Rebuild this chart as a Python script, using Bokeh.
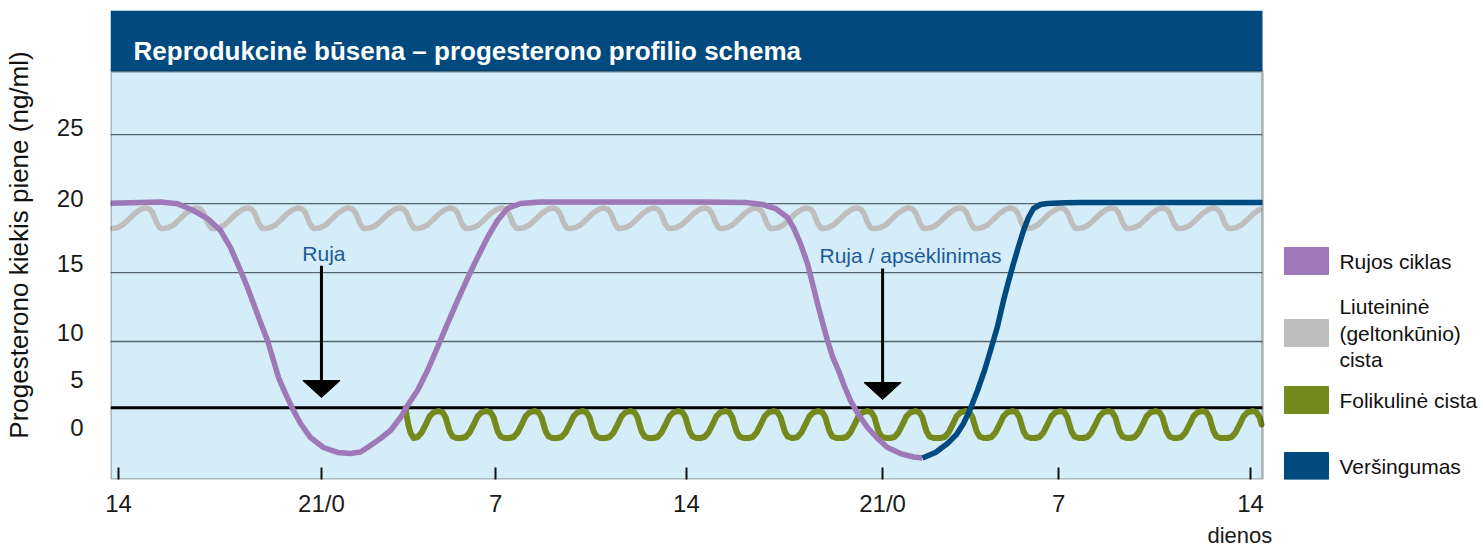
from bokeh.plotting import figure
from bokeh.models import Range1d, FixedTicker, Label, BoxAnnotation, Title
from bokeh.core.properties import value
from bokeh.embed import file_html
from bokeh.resources import INLINE

FONT = "Liberation Sans"

# ---------------- data (schematic) ----------------
# x axis: day positions on a continuous scale and their labels
x_tick_pos = [0.0, 7.53, 13.99, 21.07, 28.35, 34.88, 42.0]
x_tick_labels = ["14", "21/0", "7", "14", "21/0", "7", "14"]

# y axis labels (ng/ml) and their positions
y_tick_pos = [3.77, 7.25, 10.65, 15.65, 20.4, 25.5]
y_tick_labels = ["0", "5", "10", "15", "20", "25"]
grid_levels = [10, 15, 20, 25]
threshold_level = 5.2

# Rujos ciklas (oestrous cycle)
cycle_x = [-0.297, 1.558, 2.189, 2.783, 3.302, 3.785, 4.156, 4.527, 4.786,
           5.009, 5.269, 5.528, 5.751, 5.937, 6.196, 6.456, 6.753, 7.124,
           7.606, 8.126, 8.608, 8.979, 9.239, 9.721, 10.092, 10.463, 10.723,
           11.094, 11.465, 11.836, 12.207, 12.578, 12.949, 13.320, 13.691,
           14.062, 14.433, 14.915, 15.657, 18.626, 21.594, 23.264, 23.895,
           24.377, 24.822, 25.044, 25.304, 25.564, 25.750, 25.935, 26.121,
           26.306, 26.492, 26.714, 26.937, 27.160, 27.457, 27.790, 28.161,
           28.532, 29.015, 29.497, 29.831]
cycle_y = [20.02, 20.11, 19.98, 19.49, 18.91, 18.04, 16.81, 15.14, 13.91,
           12.75, 11.38, 10.07, 8.62, 7.39, 6.23, 5.14, 4.06, 3.04,
           2.32, 1.96, 1.88, 1.99, 2.32, 2.97, 3.55, 4.49, 5.36,
           6.45, 7.90, 9.57, 11.30, 12.97, 14.57, 16.09, 17.54,
           18.77, 19.64, 20.00, 20.11, 20.11, 20.11, 20.07, 19.93,
           19.64, 18.99, 18.26, 17.10, 15.65, 14.20, 12.75, 11.38,
           10.07, 8.91, 7.90, 6.74, 5.72, 4.71, 3.77, 2.97,
           2.32, 1.88, 1.63, 1.56]

# Veršingumas (pregnancy)
preg_x = [29.831, 30.313, 30.758, 31.092, 31.352, 31.612, 31.871, 32.131,
          32.354, 32.613, 32.836, 33.021, 33.207, 33.392, 33.578, 33.763,
          33.949, 34.208, 34.469, 35.137, 35.693, 42.445]
preg_y = [1.56, 1.96, 2.61, 3.26, 4.06, 5.14, 6.45, 7.90,
          9.35, 11.09, 12.97, 14.35, 15.65, 16.88, 18.04, 18.99,
          19.64, 19.93, 20.00, 20.05, 20.07, 20.07]

# Liuteininė (geltonkūnio) cista: trough positions and one wave cycle
luteal_troughs = [-0.22, 1.67, 3.56, 5.45, 7.31, 9.20, 11.09, 12.99, 14.88,
                  16.77, 18.63, 20.52, 22.41, 24.30, 26.16, 28.09, 29.98,
                  31.87, 33.73, 35.62, 37.51, 39.40, 41.30]
luteal_cycle_dx = [0.0, 0.19, 0.37, 0.59, 0.82, 1.04, 1.22, 1.37, 1.48,
                   1.56, 1.63, 1.73, 1.80]
luteal_cycle_y = [18.19, 18.26, 18.44, 18.84, 19.28, 19.57, 19.68, 19.60,
                  19.35, 18.99, 18.62, 18.30, 18.19]

# Folikulinė cista: start, trough positions and one wave cycle
foll_start_x = [10.65, 10.69, 10.76, 10.83]
foll_start_y = [5.18, 4.64, 3.91, 3.41]
foll_troughs = [10.95, 12.73, 14.51, 16.29, 18.07, 19.85, 21.59, 23.38,
                25.04, 26.86, 28.64, 30.50, 32.24, 34.02, 35.80, 37.55,
                39.29, 41.15]
foll_cycle_dx = [0.0, 0.15, 0.30, 0.45, 0.59, 0.74, 0.93, 1.08, 1.19, 1.26,
                 1.34, 1.45, 1.60]
foll_cycle_y = [3.01, 3.08, 3.41, 3.99, 4.57, 4.86, 4.96, 4.86, 4.49, 3.99,
                3.48, 3.12, 3.01]

estrus_x = [7.53, 28.35]
estrus_labels = ["Ruja", "Ruja / apsėklinimas"]

series_names = ["Rujos ciklas", "Liuteininė\n(geltonkūnio)\ncista",
                "Folikulinė cista", "Veršingumas"]
series_colors = ["#9e78b7", "#bebebe", "#758a1c", "#004a80"]


def build_wave(troughs, dx, ys, x_end):
    xs, yv = [], []
    bounds = troughs[1:] + [x_end]
    for t, nxt in zip(troughs, bounds):
        for d, y in zip(dx, ys):
            if t + d < nxt:
                xs.append(t + d)
                yv.append(y)
    return xs, yv


# ---------------- layout constants ----------------
W, H = 1483, 548
PX_PER_DAY = 26.952
X0 = -0.297                      # left edge of chart area
X1 = 42.445                      # right edge of chart area
XF = X0 + (W - 110) / PX_PER_DAY  # right edge of frame (legend lives here)
Y0, Y1 = 0.0, 33.99
TITLE_BOTTOM = 29.57

luteal_x, luteal_y = build_wave(luteal_troughs, luteal_cycle_dx, luteal_cycle_y, X1)
fx, fy = build_wave(foll_troughs, foll_cycle_dx, foll_cycle_y, X1)
foll_x = foll_start_x + fx
foll_y = foll_start_y + fy

p = figure(width=W, height=H, x_range=Range1d(X0, XF), y_range=Range1d(Y0, Y1),
           output_backend="svg", toolbar_location=None,
           min_border_left=110, min_border_right=0, min_border_top=10,
           min_border_bottom=H - 479, background_fill_color="white",
           border_fill_color="white")
p.outline_line_color = None
p.xgrid.visible = False
p.ygrid.visible = False

# chart background and title bar
p.add_layout(BoxAnnotation(right=X1, fill_color="#d4edf9", fill_alpha=1.0,
                           line_color=None, level="image"))
p.add_layout(BoxAnnotation(right=X1, bottom=TITLE_BOTTOM, fill_color="#004a80",
                           fill_alpha=1.0, line_color=None, level="image"))

# horizontal grid lines and threshold
p.segment(x0=X0, x1=X1, y0=grid_levels, y1=grid_levels,
          line_color="#56656d", line_width=1.3)
p.segment(x0=X0, x1=X1, y0=threshold_level, y1=threshold_level,
          line_color="black", line_width=3)

# x axis
p.xaxis.ticker = FixedTicker(ticks=x_tick_pos)
p.xaxis.major_label_overrides = {pos: lab for pos, lab in zip(x_tick_pos, x_tick_labels)}
p.xaxis.axis_line_color = None
p.xaxis.major_tick_in = 12
p.xaxis.major_tick_out = 0
p.xaxis.major_tick_line_color = "#111111"
p.xaxis.major_tick_line_width = 2
p.xaxis.minor_tick_line_color = None
p.xaxis.major_label_standoff = 10
p.xaxis.major_label_text_font = FONT
p.xaxis.major_label_text_font_size = "24px"
p.xaxis.major_label_text_color = "#1a1a1a"

# y axis
p.yaxis.ticker = FixedTicker(ticks=y_tick_pos)
p.yaxis.major_label_overrides = {pos: lab for pos, lab in zip(y_tick_pos, y_tick_labels)}
p.yaxis.axis_line_color = None
p.yaxis.major_tick_line_color = None
p.yaxis.minor_tick_line_color = None
p.yaxis.major_label_standoff = 21
p.yaxis.major_label_text_font = FONT
p.yaxis.major_label_text_font_size = "24px"
p.yaxis.major_label_text_color = "#1a1a1a"
p.yaxis.axis_label = "Progesterono kiekis piene (ng/ml)"
p.yaxis.axis_label_text_font = FONT
p.yaxis.axis_label_text_font_style = "normal"
p.yaxis.axis_label_text_font_size = "26px"
p.yaxis.axis_label_text_color = "#111111"
p.yaxis.axis_label_standoff = 20

# x unit label below the axis
p.add_layout(Title(text="dienos", align="left", offset=1097, text_font=FONT,
                   text_font_size="22px", text_font_style="normal",
                   text_color="#1a1a1a", standoff=2, text_line_height=1.0), "below")

# curves
r_lut = p.line(luteal_x, luteal_y, line_color=series_colors[1], line_width=5.5,
               line_join="round", line_cap="round")
r_fol = p.line(foll_x, foll_y, line_color=series_colors[2], line_width=6,
               line_join="round", line_cap="round")
r_cyc = p.line(cycle_x, cycle_y, line_color=series_colors[0], line_width=5.5,
               line_join="round", line_cap="butt")
r_prg = p.line(preg_x, preg_y, line_color=series_colors[3], line_width=5.5,
               line_join="round", line_cap="butt")

# arrows (heat events)
arrow_top = [15.5, 15.29]
head_base = [7.17, 7.03]
head_tip = [5.94, 5.80]
hw = 0.69
p.segment(x0=estrus_x, y0=arrow_top, x1=estrus_x, y1=head_base,
          line_color="black", line_width=3)
p.patches(xs=[[x - hw, x + hw, x] for x in estrus_x],
          ys=[[b, b, t] for b, t in zip(head_base, head_tip)],
          fill_color="black", line_color="black", line_width=1)

text_blue = "#1d5b95"
p.add_layout(Label(x=estrus_x[0] + 0.09, y=16.38, text=estrus_labels[0],
                   text_align="center", text_baseline="alphabetic",
                   text_font=FONT, text_font_size="21px", text_color=text_blue))
p.add_layout(Label(x=26.01, y=16.23, text=estrus_labels[1],
                   text_align="left", text_baseline="alphabetic",
                   text_font=FONT, text_font_size="21px", text_color=text_blue))

# chart border (incl. line under the title bar)
p.add_layout(BoxAnnotation(right=X1, top=TITLE_BOTTOM, fill_alpha=0.0,
                           line_color="#1e1e1e", line_width=2.6, level="overlay"))

# title
p.add_layout(Label(x=0.557, y=31.09, text="Reprodukcinė būsena – progesterono profilio schema",
                   text_align="left", text_baseline="alphabetic", text_font=FONT,
                   text_font_size="26px", text_font_style="bold", text_color="white"))

# legend: rectangular swatches + labels, right of the chart
leg_swatch_x = 44.078
leg_label_x = 45.30
leg_y = [15.833, 10.616, 5.761, 0.978]
p.rect(x=[leg_swatch_x] * 4, y=leg_y, width=44, height=27,
       width_units="screen", height_units="screen",
       fill_color=series_colors, line_color=series_colors)
p.text(x=[leg_label_x] * 4, y=leg_y, text=series_names,
       text_font=value(FONT), text_font_size="21px", text_color="#111111",
       text_align="left", text_baseline="middle", text_line_height=1.15)

open("out.html", "w").write(file_html(p, INLINE))
